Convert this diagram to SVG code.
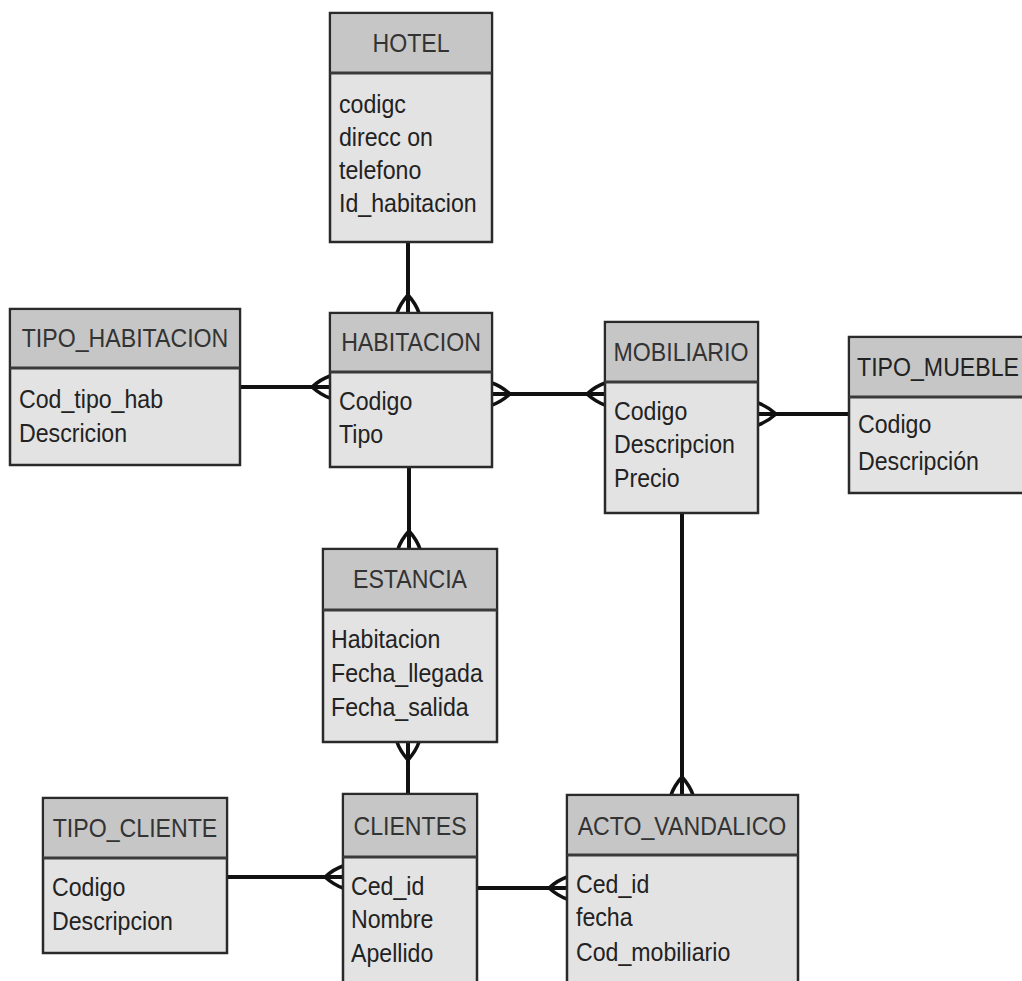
<svg xmlns="http://www.w3.org/2000/svg" width="1022" height="981" viewBox="0 0 1022 981">
  <style>
    .box { fill: #e3e3e3; stroke: #2a2a2a; stroke-width: 2.5; }
    .head { fill: #c6c6c6; stroke: none; }
    .div { stroke: #3a3a3a; stroke-width: 3; }
    text { font-family: "Liberation Sans", Arial, sans-serif; font-size: 26px; }
    .title { fill: #333; text-anchor: middle; }
    .attr { fill: #222; }
    .link { stroke: #111; stroke-width: 4; fill: none; }
    .foot { stroke: #111; stroke-width: 3.5; fill: none; }
  </style>
  <defs>
    <!-- crow's foot: box edge at x=0, relationship line leaves along +x -->
    <path id="crow" d="M0,-11 Q9,-8 18,0 Q9,8 0,11 M0,0 H18"/>
  </defs>
  <rect width="1022" height="981" fill="#ffffff"/>

  <!-- connectors -->
  <g id="connectors">
    <line class="link" x1="408" y1="242" x2="408" y2="313"/>
    <use href="#crow" class="foot" transform="translate(408,313) rotate(-90)"/>

    <line class="link" x1="240" y1="387" x2="330" y2="387"/>
    <use href="#crow" class="foot" transform="translate(330,387) rotate(180)"/>

    <line class="link" x1="492" y1="394" x2="605" y2="394"/>
    <use href="#crow" class="foot" transform="translate(492,394)"/>
    <use href="#crow" class="foot" transform="translate(605,394) rotate(180)"/>

    <line class="link" x1="758" y1="414" x2="849" y2="414"/>
    <use href="#crow" class="foot" transform="translate(758,414)"/>

    <line class="link" x1="409" y1="467" x2="409" y2="549"/>
    <use href="#crow" class="foot" transform="translate(409,549) rotate(-90)"/>

    <line class="link" x1="408" y1="742" x2="408" y2="795"/>
    <use href="#crow" class="foot" transform="translate(408,742) rotate(90)"/>

    <line class="link" x1="227" y1="877" x2="343" y2="877"/>
    <use href="#crow" class="foot" transform="translate(343,877) rotate(180)"/>

    <line class="link" x1="477" y1="888" x2="567" y2="888"/>
    <use href="#crow" class="foot" transform="translate(567,888) rotate(180)"/>

    <line class="link" x1="682" y1="513" x2="682" y2="795"/>
    <use href="#crow" class="foot" transform="translate(682,795) rotate(-90)"/>
  </g>

  <g id="hotel">
    <rect class="box" x="330" y="13" width="162" height="229"/>
    <rect class="head" x="331.5" y="14.5" width="159" height="58"/>
    <line class="div" x1="330" y1="73" x2="492" y2="73"/>
    <text class="title" transform="translate(411,52) scale(0.89,1)">HOTEL</text>
    <text class="attr" transform="translate(339,113) scale(0.89,1)">codigc</text>
    <text class="attr" transform="translate(339,146) scale(0.89,1)">direcc on</text>
    <text class="attr" transform="translate(339,179) scale(0.89,1)">telefono</text>
    <text class="attr" transform="translate(339,212) scale(0.89,1)">Id_habitacion</text>
  </g>

  <g id="tipo_habitacion">
    <rect class="box" x="10" y="309" width="230" height="156"/>
    <rect class="head" x="11.5" y="310.5" width="227" height="57"/>
    <line class="div" x1="10" y1="368" x2="240" y2="368"/>
    <text class="title" transform="translate(125,347) scale(0.89,1)">TIPO_HABITACION</text>
    <text class="attr" transform="translate(19,408) scale(0.89,1)">Cod_tipo_hab</text>
    <text class="attr" transform="translate(19,442) scale(0.89,1)">Descricion</text>
  </g>

  <g id="habitacion">
    <rect class="box" x="330" y="313" width="162" height="154"/>
    <rect class="head" x="331.5" y="314.5" width="159" height="57"/>
    <line class="div" x1="330" y1="372" x2="492" y2="372"/>
    <text class="title" transform="translate(411,351) scale(0.89,1)">HABITACION</text>
    <text class="attr" transform="translate(339,410) scale(0.89,1)">Codigo</text>
    <text class="attr" transform="translate(339,443) scale(0.89,1)">Tipo</text>
  </g>

  <g id="mobiliario">
    <rect class="box" x="605" y="322" width="153" height="191"/>
    <rect class="head" x="606.5" y="323.5" width="150" height="58"/>
    <line class="div" x1="605" y1="382" x2="758" y2="382"/>
    <text class="title" transform="translate(681,361) scale(0.89,1)">MOBILIARIO</text>
    <text class="attr" transform="translate(614,420) scale(0.89,1)">Codigo</text>
    <text class="attr" transform="translate(614,453) scale(0.89,1)">Descripcion</text>
    <text class="attr" transform="translate(614,487) scale(0.89,1)">Precio</text>
  </g>

  <g id="tipo_mueble">
    <rect class="box" x="849" y="337" width="190" height="156"/>
    <rect class="head" x="850.5" y="338.5" width="187" height="58"/>
    <line class="div" x1="849" y1="397" x2="1039" y2="397"/>
    <text class="attr" transform="translate(857,376) scale(0.89,1)" fill="#333">TIPO_MUEBLE</text>
    <text class="attr" transform="translate(858,433) scale(0.89,1)">Codigo</text>
    <text class="attr" transform="translate(858,470) scale(0.89,1)">Descripción</text>
  </g>

  <g id="estancia">
    <rect class="box" x="323" y="549" width="174" height="193"/>
    <rect class="head" x="324.5" y="550.5" width="171" height="59"/>
    <line class="div" x1="323" y1="610" x2="497" y2="610"/>
    <text class="title" transform="translate(410,588) scale(0.89,1)">ESTANCIA</text>
    <text class="attr" transform="translate(331,648) scale(0.89,1)">Habitacion</text>
    <text class="attr" transform="translate(331,682) scale(0.89,1)">Fecha_llegada</text>
    <text class="attr" transform="translate(331,716) scale(0.89,1)">Fecha_salida</text>
  </g>

  <g id="tipo_cliente">
    <rect class="box" x="43" y="798" width="184" height="155"/>
    <rect class="head" x="44.5" y="799.5" width="181" height="58"/>
    <line class="div" x1="43" y1="858" x2="227" y2="858"/>
    <text class="title" transform="translate(135,837) scale(0.89,1)">TIPO_CLIENTE</text>
    <text class="attr" transform="translate(52,896) scale(0.89,1)">Codigo</text>
    <text class="attr" transform="translate(52,930) scale(0.89,1)">Descripcion</text>
  </g>

  <g id="clientes">
    <rect class="box" x="343" y="794" width="134" height="200"/>
    <rect class="head" x="344.5" y="795.5" width="131" height="61"/>
    <line class="div" x1="343" y1="857" x2="477" y2="857"/>
    <text class="title" transform="translate(410,835) scale(0.89,1)">CLIENTES</text>
    <text class="attr" transform="translate(351,895) scale(0.89,1)">Ced_id</text>
    <text class="attr" transform="translate(351,928) scale(0.89,1)">Nombre</text>
    <text class="attr" transform="translate(351,962) scale(0.89,1)">Apellido</text>
  </g>

  <g id="acto_vandalico">
    <rect class="box" x="567" y="795" width="231" height="200"/>
    <rect class="head" x="568.5" y="796.5" width="228" height="58"/>
    <line class="div" x1="567" y1="855" x2="798" y2="855"/>
    <text class="title" transform="translate(682,835) scale(0.89,1)">ACTO_VANDALICO</text>
    <text class="attr" transform="translate(576,893) scale(0.89,1)">Ced_id</text>
    <text class="attr" transform="translate(576,926) scale(0.89,1)">fecha</text>
    <text class="attr" transform="translate(576,961) scale(0.89,1)">Cod_mobiliario</text>
  </g>
</svg>
